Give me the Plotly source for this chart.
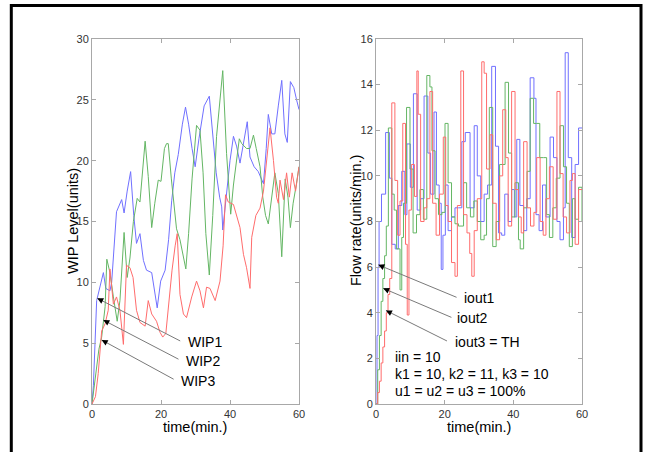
import math
import plotly.graph_objects as go

# ---------------- data: left panel (WIP levels) ----------------
wip1_t = [0, 0.4, 1.35, 2.3, 3.3, 4.0, 5.2, 5.7, 6.3, 7.1, 8.6, 9.3, 10.2, 11.2, 12.1, 12.9, 13.9, 14.9, 15.8, 17.3,
          18.9, 19.9, 21.2, 22.2, 23.1, 24.0, 25.0, 26.2, 27.1, 28.0, 29.0, 29.9, 31.0, 32.5, 34.0, 35.0, 36.0, 37.0,
          37.6, 37.9, 39.0, 40.0, 41.0, 41.9, 42.9, 43.6, 45.0, 45.8, 47.0, 48.2, 49.7, 50.5, 51.1, 52.1, 53.0, 54.0,
          55.0, 55.9, 56.6, 57.5, 58.5, 59.3, 60]
wip1_v = [0, 1.5, 8.5, 9.6, 10.8, 9.5, 9.3, 10.0, 12.5, 15.8, 16.8, 15.7, 17.5, 19.1, 15.5, 13.2, 14.0, 11.8, 11.0, 10.8,
          7.9, 10.1, 11.0, 13.5, 16.7, 19.0, 20.5, 23.0, 24.4, 23.0, 21.0, 19.5, 21.8, 24.5, 25.3, 22.0, 19.0, 17.0,
          16.2, 14.3, 17.5, 20.0, 22.0, 21.2, 19.8, 21.0, 23.2, 20.3, 19.5, 19.1, 18.1, 21.0, 23.8, 22.2, 22.2, 24.5,
          26.6, 22.2, 21.5, 26.5, 26.0, 25.0, 24.2]

wip2_t = [0, 1.0, 2.0, 2.8, 3.8, 4.3, 5.2, 6.2, 7.3, 8.1, 9.3, 10.2, 11.0, 12.0, 13.1, 13.9, 15.4, 16.3, 17.3, 18.2,
          19.2, 20.0, 21.0, 21.6, 22.1, 23.0, 23.8, 24.5, 25.5, 26.5, 27.2, 28.0, 29.0, 30.3, 31.3, 32.2, 33.0, 34.0,
          35.0, 36.1, 37.0, 37.9, 39.0, 40.2, 41.0, 42.0, 42.7, 43.4, 44.8, 45.8, 46.8, 47.6, 48.7, 49.5, 50.3, 51.1,
          52.0, 53.0, 54.0, 55.0, 56.0, 56.8, 57.5, 58.3, 59.2, 60]
wip2_v = [0, 2.5, 4.5, 5.5, 8.0, 11.9, 10.8, 8.8, 6.8, 8.5, 14.1, 10.4, 12.0, 15.0, 16.9, 16.6, 21.6, 18.7, 14.5, 16.5,
          18.4, 18.3, 21.0, 21.4, 21.4, 18.5, 16.0, 14.4, 13.5, 12.0, 11.1, 14.0, 18.5, 22.9, 22.5, 19.0, 14.0, 10.6,
          15.5, 22.0, 24.5, 27.4, 20.6, 15.6, 18.0, 20.5, 21.8, 21.4, 21.0, 21.0, 22.1, 21.0, 19.5, 17.0, 15.5, 14.8,
          17.0, 19.0, 17.3, 12.1, 18.5, 17.0, 14.5, 16.5, 18.0, 19.5]

wip3_t = [0, 1.0, 1.8, 2.8, 3.8, 4.7, 5.2, 6.2, 7.1, 8.1, 9.1, 10.0, 11.0, 11.9, 12.9, 13.9, 15.4, 16.3, 17.3, 18.7,
          19.7, 20.5, 21.4, 22.3, 23.2, 24.1, 24.7, 25.5, 26.5, 27.4, 28.9, 30.3, 31.3, 32.3, 33.2, 34.2, 35.7, 37.1,
          38.0, 38.7, 39.5, 41.0, 42.9, 43.9, 44.8, 45.8, 46.3, 47.5, 48.7, 49.7, 50.7, 51.6, 52.6, 53.5, 54.0, 54.5,
          55.5, 56.4, 57.2, 58.0, 59.0, 60]
wip3_v = [0, 0.6, 2.5, 6.0, 6.6, 7.7, 11.1, 8.2, 8.8, 7.7, 4.9, 11.4, 11.2, 10.4, 7.7, 6.7, 6.4, 8.5, 7.4, 6.8,
          5.9, 5.5, 5.8, 8.5, 11.0, 13.0, 14.0, 9.0, 7.4, 7.1, 8.8, 10.1, 9.3, 7.9, 9.6, 9.5, 8.5, 10.1,
          13.0, 17.2, 16.6, 16.4, 14.5, 12.3, 11.2, 9.5, 13.7, 15.5, 16.1, 17.5, 20.0, 22.7, 20.0, 17.0, 16.5, 18.4,
          16.8, 19.0, 17.0, 19.0, 17.5, 19.5]

# ---------------- data: right panel (flow rates, step-wise) ----------------
iout1_t = [0, 0.3, 0.6, 0.9, 1.6, 2.8, 3.9, 4.6, 5.6, 6.5, 7.5, 8.4, 9.0, 10.0, 10.9, 12.0, 13.0, 14.0, 15.1, 15.9,
           16.9, 17.6, 18.4, 19.0, 19.5, 20.2, 21.0, 22.0, 23.0, 24.0, 25.0, 26.0, 27.4, 28.6, 29.5, 30.5, 31.5, 32.5,
           33.7, 34.8, 35.7, 36.6, 37.5, 38.5, 39.5, 40.3, 41.0, 41.9, 43.0, 43.9, 44.9, 46.0, 46.6, 47.5, 48.5, 49.5,
           50.7, 51.7, 52.7, 53.6, 54.6, 55.1, 56.0, 57.0, 58.0, 59.0, 60]
iout1_v = [0, 3, 6, 8, 9.2, 11.9, 9.9, 7.0, 6.8, 8.7, 10.2, 8.3, 11.4, 9.5, 13.6, 8.5, 9.0, 13.5, 11.0, 9.2,
           12.8, 9.6, 8.8, 5.9, 7.4, 9.6, 7.6, 8.2, 8.6, 8.6, 11.5, 11.9, 8.6, 12.2, 10.0, 8.0, 9.2, 9.6,
           14.8, 11.3, 7.5, 7.4, 9.2, 8.0, 9.4, 8.2, 11.6, 8.7, 7.6, 9.0, 14.3, 13.4, 8.3, 7.6, 9.6, 8.2,
           11.7, 10.8, 8.0, 7.2, 8.6, 15.4, 10.8, 7.3, 10.5, 12.1, 12.1]

iout2_t = [0, 0.5, 1, 1.5, 2, 2.5, 3, 3.6, 4.6, 5.3, 6.0, 7.0, 7.5, 8.0, 8.9, 9.9, 10.8, 11.8, 12.8, 13.8,
           14.8, 15.7, 16.3, 17.2, 18.2, 19.2, 20.1, 21.0, 22.0, 23.0, 24.0, 25.5, 26.4, 27.5, 28.5, 29.5, 30.5, 31.5,
           32.2, 33.0, 34.0, 35.0, 36.0, 37.6, 38.6, 39.5, 40.5, 41.5, 42.0, 43.0, 44.0, 44.9, 45.9, 46.8, 47.7, 48.8,
           49.7, 50.5, 51.5, 52.5, 53.6, 54.6, 55.5, 56.3, 57.2, 58.0, 59.0, 60]
iout2_v = [0, 1.5, 3, 4.5, 5.5, 6.5, 7.8, 12.1, 9.2, 8.5, 6.8, 5.0, 7.3, 8.8, 13.0, 10.3, 7.5, 8.3, 9.4, 8.1,
           14.4, 13.9, 11.1, 9.0, 8.3, 8.4, 12.3, 9.7, 8.2, 7.9, 7.8, 9.7, 8.6, 8.2, 8.9, 8.0, 7.2, 7.4,
           9.0, 13.0, 6.9, 8.0, 10.5, 14.1, 11.0, 8.2, 9.7, 7.2, 6.8, 8.6, 10.2, 13.4, 12.3, 12.3, 10.8, 10.8,
           8.3, 7.3, 8.6, 9.9, 12.2, 10.4, 8.8, 6.9, 9.0, 8.1, 9.5, 8.0]

iout3_t = [0, 0.5, 1, 1.5, 2, 2.5, 3, 3.5, 4, 4.6, 5.5, 6.3, 7.0, 7.8, 8.6, 9.1, 9.6, 10.3, 11.2, 11.9,
           12.3, 13.0, 14.0, 14.8, 15.7, 16.5, 17.5, 18.5, 19.6, 20.3, 21.0, 22.0, 23.0, 23.7, 24.7, 25.5, 26.5, 27.3,
           27.9, 28.6, 29.5, 30.8, 31.5, 32.2, 33.2, 34.0, 35.0, 36.0, 36.9, 37.8, 38.5, 39.5, 40.5, 41.5, 42.3, 43.0,
           44.0, 45.0, 46.0, 46.8, 47.8, 48.7, 49.5, 50.5, 51.6, 52.7, 53.6, 54.5, 55.5, 56.5, 57.2, 58.0, 59.0, 60]
iout3_v = [0, 0.5, 1, 1.8, 2.5, 3.2, 4, 4.8, 5.5, 13.2, 9.8, 7.4, 8.9, 12.3, 7.0, 3.9, 8.5, 10.5, 9.1, 14.6,
           12.7, 8.0, 8.6, 9.0, 13.7, 8.8, 7.4, 9.2, 11.7, 8.7, 8.0, 6.2, 5.6, 8.7, 14.6, 8.3, 7.5, 6.6,
           5.6, 7.6, 9.0, 15.0, 14.5, 10.3, 11.8, 8.8, 7.2, 10.0, 12.9, 10.8, 7.8, 13.7, 9.4, 8.2, 7.5, 11.5,
           8.6, 7.8, 8.4, 10.8, 8.0, 7.4, 9.0, 10.4, 8.1, 13.7, 10.1, 8.2, 7.5, 9.8, 10.1, 7.0, 9.4, 9.4]

left_yticks = [0, 5, 10, 15, 20, 25, 30]
right_yticks = [0, 2, 4, 6, 8, 10, 12, 14, 16]
xticks = [0, 20, 40, 60]

BLUE = "rgb(112,112,255)"
GREEN = "rgb(100,182,100)"
RED = "rgb(255,108,108)"
FONT = "Arial, Liberation Sans, sans-serif"

W, H = 647, 452
# plot areas in pixels
L1, R1 = 92, 299
L2, R2 = 376, 582
TOP, BOT = 39, 404

fig = go.Figure()
for t, v, c in [(wip1_t, wip1_v, BLUE), (wip2_t, wip2_v, GREEN), (wip3_t, wip3_v, RED)]:
    fig.add_trace(go.Scatter(x=t, y=v, mode="lines", line=dict(color=c, width=1),
                             xaxis="x", yaxis="y", showlegend=False, hoverinfo="skip"))
for t, v, c in [(iout1_t, iout1_v, BLUE), (iout2_t, iout2_v, GREEN), (iout3_t, iout3_v, RED)]:
    fig.add_trace(go.Scatter(x=t, y=v, mode="lines", line=dict(color=c, width=1, shape="hv"),
                             xaxis="x2", yaxis="y2", showlegend=False, hoverinfo="skip"))

axis_common = dict(showgrid=False, zeroline=False, showline=True, linecolor="#a8a8a8", linewidth=1,
                   mirror="ticks", ticks="inside", ticklen=4, tickcolor="#a8a8a8", automargin=False,
                   tickfont=dict(family=FONT, size=11, color="#333333"))
ydom = [1 - BOT / H, 1 - TOP / H]
fig.update_layout(
    width=W, height=H, margin=dict(l=0, r=0, t=0, b=0, pad=0), autosize=False,
    paper_bgcolor="white", plot_bgcolor="white",
    xaxis=dict(domain=[L1 / W, R1 / W], range=[0, 60], tickvals=xticks, anchor="y", **axis_common),
    yaxis=dict(domain=ydom, range=[0, 30], tickvals=left_yticks, anchor="x", **axis_common),
    xaxis2=dict(domain=[L2 / W, R2 / W], range=[0, 60], tickvals=xticks, anchor="y2", **axis_common),
    yaxis2=dict(domain=ydom, range=[0, 16], tickvals=right_yticks, anchor="x2", **axis_common),
)

anns = []
# axis titles
tf = dict(family=FONT, size=14.5, color="black")
anns.append(dict(text="time(min.)", xref="paper", yref="paper", x=(L1 + R1) / 2 / W, y=1 - 427 / H,
                 showarrow=False, font=tf, xanchor="center", yanchor="middle"))
anns.append(dict(text="time(min.)", xref="paper", yref="paper", x=(L2 + R2) / 2 / W, y=1 - 427 / H,
                 showarrow=False, font=tf, xanchor="center", yanchor="middle"))
anns.append(dict(text="WIP Level(units)", xref="paper", yref="paper", x=73 / W, y=1 - 221 / H, textangle=-90,
                 showarrow=False, font=tf, xanchor="center", yanchor="middle"))
anns.append(dict(text="Flow rate(units/min.)", xref="paper", yref="paper", x=356 / W, y=1 - 221 / H, textangle=-90,
                 showarrow=False, font=tf, xanchor="center", yanchor="middle"))

lf = dict(family=FONT, size=14, color="black")
# (label, head_t, head_v, tail_t, tail_v, text_t, text_v, panel)
labels = [
    ("WIP1", 1.54, 8.69, 26.0, 5.12, 27.2, 5.10, 1),
    ("WIP2", 3.28, 6.90, 25.5, 3.62, 26.7, 3.57, 1),
    ("WIP3", 2.81, 5.26, 24.1, 1.97, 25.2, 1.89, 1),
    ("iout1", 0.67, 6.10, 23.9, 4.65, 25.0, 4.65, 2),
    ("iout2", 2.10, 5.07, 22.4, 3.77, 23.0, 3.75, 2),
    ("iout3 = TH", 2.90, 4.10, 21.1, 2.73, 22.4, 2.70, 2),
]
for lab, hx, hy, tx, ty, lx, ly, p in labels:
    xr, yr = ("x", "y") if p == 1 else ("x2", "y2")
    ymax = 30 if p == 1 else 16
    pxx = ((R1 - L1) if p == 1 else (R2 - L2)) / 60
    pxy = (BOT - TOP) / ymax
    # gray shaft
    anns.append(dict(text="", x=hx, y=hy, ax=tx, ay=ty, xref=xr, yref=yr, axref=xr, ayref=yr,
                     showarrow=True, arrowhead=0, arrowwidth=1, arrowcolor="#7a7a7a", standoff=0))
    # black arrowhead
    dx = (tx - hx) * pxx
    dy = -(ty - hy) * pxy
    n = math.hypot(dx, dy)
    anns.append(dict(text="", x=hx, y=hy, ax=dx / n * 7, ay=dy / n * 7, xref=xr, yref=yr,
                     showarrow=True, arrowhead=2, arrowsize=1, arrowwidth=1.2, arrowcolor="black", standoff=0))
    anns.append(dict(text=lab, x=lx, y=ly, xref=xr, yref=yr, showarrow=False, font=lf,
                     xanchor="left", yanchor="middle"))

for txt, v in [("iin = 10", 2.06), ("k1 = 10, k2 = 11, k3 = 10", 1.32), ("u1 = u2 = u3 = 100%", 0.59)]:
    anns.append(dict(text=txt, x=4.96, y=v, xref="x2", yref="y2", showarrow=False, font=lf,
                     xanchor="left", yanchor="middle"))

fig.update_layout(annotations=anns)

# black outer frame
fig.add_shape(type="rect", xref="paper", yref="paper", x0=11.3 / W, x1=641 / W, y0=-0.1, y1=1 - 5.5 / H,
              line=dict(color="black", width=3), fillcolor="rgba(0,0,0,0)", layer="above")

# remove the page's default body margin so the figure sits at the window's top-left corner
fig.write_html("out.html", config={"displayModeBar": False, "responsive": False},
               post_script="document.body.style.margin='0px';document.body.style.overflow='hidden';")
